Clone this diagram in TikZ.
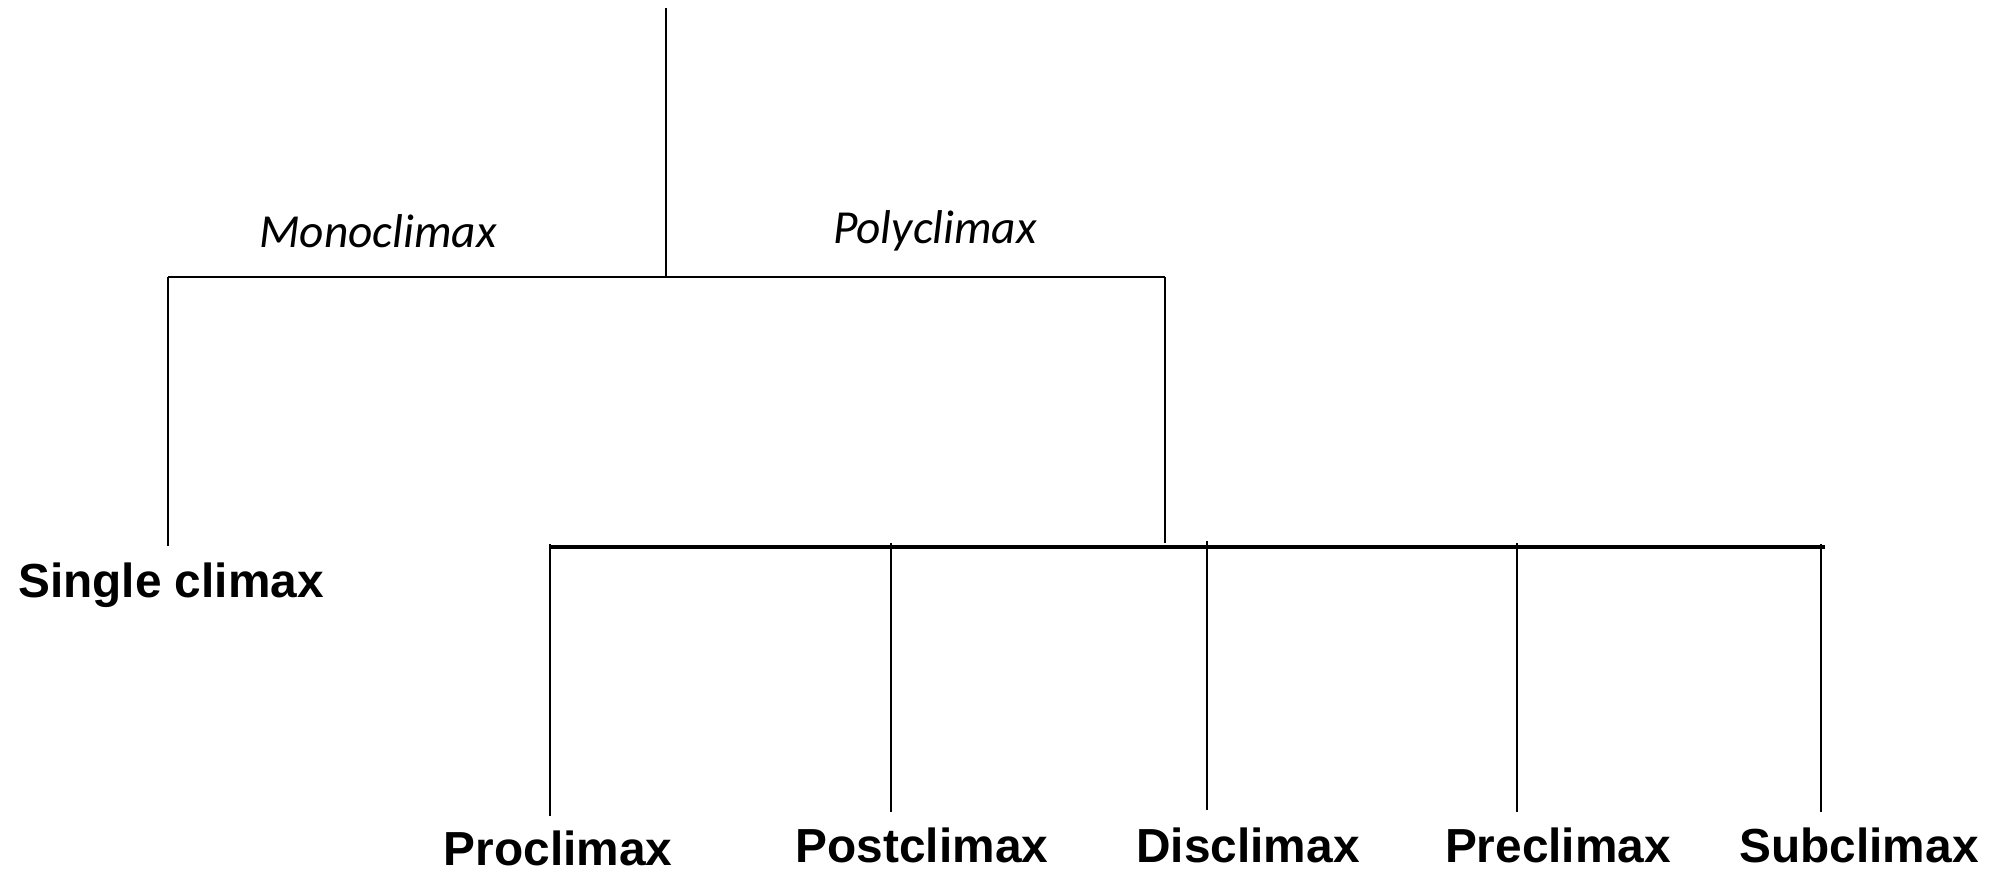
\documentclass[tikz,border=0pt]{standalone}
\usepackage{fontspec}
\newfontfamily\lblfont{Liberation Sans}
\newfontfamily\carlfont{Carlito}
\begin{document}
\begin{tikzpicture}[x=0.5pt,y=-0.5pt,
  thinline/.style={line width=0.75pt,black},
  thickline/.style={line width=2pt,black},
  leaf/.style={anchor=base,inner sep=0pt,font=\lblfont\bfseries\fontsize{23.9}{28}\selectfont},
  branch/.style={anchor=base,inner sep=0pt,font=\carlfont\itshape\fontsize{23.7}{28}\selectfont}]
\useasboundingbox (0,0) rectangle (1990,873);
% coordinates
\coordinate (top) at (666,8);
\coordinate (j1) at (666,277);
\coordinate (jl) at (168,277);
\coordinate (jr) at (1165,277);
\coordinate (ml) at (168,546);
\coordinate (pr) at (1165,543);
\coordinate (bl) at (550,547);
\coordinate (br) at (1825,547);
\coordinate (t1) at (550,544);
\coordinate (e1) at (550,816);
\coordinate (t2) at (891,543);
\coordinate (e2) at (891,812);
\coordinate (t3) at (1207,541);
\coordinate (e3) at (1207,810);
\coordinate (t4) at (1517,543);
\coordinate (e4) at (1517,812);
\coordinate (t5) at (1821,544);
\coordinate (e5) at (1821,812);
% labels
\node[branch] (mono) at (378,247) {Monoclimax};
\node[branch] (poly) at (935,243) {Polyclimax};
\node[leaf] (single) at (171,597) {Single climax};
\node[leaf] (pro) at (558,865) {Proclimax};
\node[leaf] (post) at (922,862) {Postclimax};
\node[leaf] (dis) at (1248,862) {Disclimax};
\node[leaf] (pre) at (1558,862) {Preclimax};
\node[leaf] (sub) at (1859,862) {Subclimax};
% connectors
\draw[thinline] (top) -- (j1);
\draw[thinline] (jl) -- (jr);
\draw[thinline] (jl) -- (ml);
\draw[thinline] (jr) -- (pr);
\draw[thickline] (bl) -- (br);
\draw[thinline] (t1) -- (e1);
\draw[thinline] (t2) -- (e2);
\draw[thinline] (t3) -- (e3);
\draw[thinline] (t4) -- (e4);
\draw[thinline] (t5) -- (e5);
\end{tikzpicture}
\end{document}
